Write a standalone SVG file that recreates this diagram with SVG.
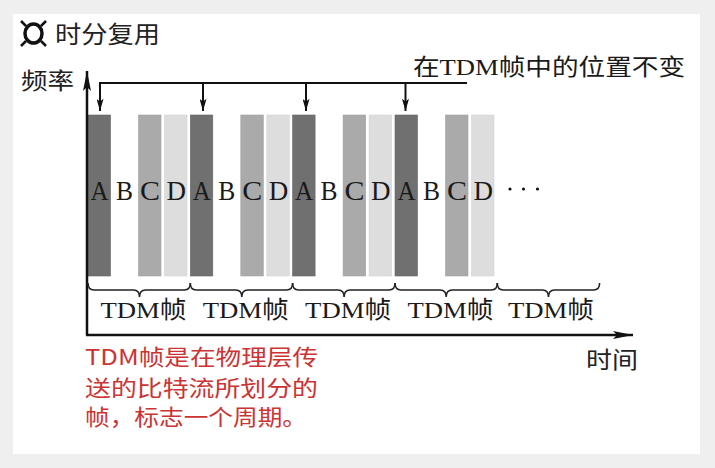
<svg xmlns="http://www.w3.org/2000/svg" width="715" height="468" viewBox="0 0 715 468">
<style>
.ser{font-family:"Liberation Serif","Noto Sans CJK SC",serif;fill:#1a1a1a}
.cjk{font-family:"Noto Sans CJK SC",sans-serif;fill:#222}
.red{font-family:"Noto Sans CJK SC","Liberation Sans",sans-serif;fill:#cc3333;font-size:22px}
.let{font-family:"Liberation Serif",serif;font-size:27px;fill:#1a1a1a}
.lab{font-family:"Liberation Serif","Noto Sans CJK SC",serif;font-size:24px;fill:#1a1a1a}
.a{fill:#707070;stroke:#666;stroke-width:0.6}
.c{fill:#aaaaaa;stroke:#a0a0a0;stroke-width:0.6}
.d{fill:#dddddd;stroke:#d4d4d4;stroke-width:0.6}
.ln{stroke:#111;stroke-width:2.5;fill:none}
.br{stroke:#222;stroke-width:1.6;fill:none}
</style>
<defs>
<marker id="ax" viewBox="0 0 20 8" refX="20" refY="4" markerWidth="20" markerHeight="8" markerUnits="userSpaceOnUse" orient="auto">
<path d="M0,0 L20,4 L0,8 L4,4 Z" fill="#111"/>
</marker>
<marker id="dn" viewBox="0 0 14 8" refX="14" refY="4" markerWidth="14" markerHeight="7" markerUnits="userSpaceOnUse" orient="auto">
<path d="M0,0 L14,4 L0,8 L3,4 Z" fill="#111"/>
</marker>
</defs>
<rect x="0" y="0" width="715" height="468" fill="#efefef"/>
<rect x="13" y="14" width="687" height="440" fill="#ffffff"/>

<g id="title">
<g fill="none" stroke="#111">
<ellipse cx="33.5" cy="33.5" rx="8.5" ry="9.5" stroke-width="3.5"/>
<path d="M26,26 L21,21 M41,26 L46,21 M26,41 L21,46 M41,41 L46,46" stroke-width="2.5"/>
</g>
<text class="cjk" x="55" y="43" font-size="24" textLength="105" lengthAdjust="spacingAndGlyphs">时分复用</text>
</g>

<g id="axis-labels">
<text class="cjk" x="21" y="89" font-size="23" textLength="53" lengthAdjust="spacingAndGlyphs">频率</text>
<text class="cjk" x="586" y="368" font-size="23" textLength="52" lengthAdjust="spacingAndGlyphs">时间</text>
<text class="ser" x="413" y="75" font-size="23" textLength="272" lengthAdjust="spacingAndGlyphs">在TDM帧中的位置不变</text>
</g>

<g id="bars">
<rect class="a" x="88" y="115" width="22.5" height="161"/>
<rect class="c" x="138.5" y="115" width="22.5" height="161"/>
<rect class="d" x="164.5" y="115" width="22.5" height="161"/>
<rect class="a" x="190.3" y="115" width="22.5" height="161"/>
<rect class="c" x="240.8" y="115" width="22.5" height="161"/>
<rect class="d" x="266.8" y="115" width="22.5" height="161"/>
<rect class="a" x="292.6" y="115" width="22.5" height="161"/>
<rect class="c" x="343.1" y="115" width="22.5" height="161"/>
<rect class="d" x="369.1" y="115" width="22.5" height="161"/>
<rect class="a" x="395" y="115" width="22.5" height="161"/>
<rect class="c" x="445.5" y="115" width="22.5" height="161"/>
<rect class="d" x="471.5" y="115" width="22.5" height="161"/>
</g>

<g id="letters">
<text class="let" x="90.5" y="200" textLength="18" lengthAdjust="spacingAndGlyphs">A</text><text class="let" x="116" y="200" textLength="17" lengthAdjust="spacingAndGlyphs">B</text><text class="let" x="140" y="200" textLength="20" lengthAdjust="spacingAndGlyphs">C</text><text class="let" x="166.5" y="200" textLength="19.5" lengthAdjust="spacingAndGlyphs">D</text>
<text class="let" x="192.8" y="200" textLength="18" lengthAdjust="spacingAndGlyphs">A</text><text class="let" x="218.3" y="200" textLength="17" lengthAdjust="spacingAndGlyphs">B</text><text class="let" x="242.3" y="200" textLength="20" lengthAdjust="spacingAndGlyphs">C</text><text class="let" x="268.8" y="200" textLength="19.5" lengthAdjust="spacingAndGlyphs">D</text>
<text class="let" x="295.1" y="200" textLength="18" lengthAdjust="spacingAndGlyphs">A</text><text class="let" x="320.6" y="200" textLength="17" lengthAdjust="spacingAndGlyphs">B</text><text class="let" x="344.6" y="200" textLength="20" lengthAdjust="spacingAndGlyphs">C</text><text class="let" x="371.1" y="200" textLength="19.5" lengthAdjust="spacingAndGlyphs">D</text>
<text class="let" x="397.5" y="200" textLength="18" lengthAdjust="spacingAndGlyphs">A</text><text class="let" x="423" y="200" textLength="17" lengthAdjust="spacingAndGlyphs">B</text><text class="let" x="447" y="200" textLength="20" lengthAdjust="spacingAndGlyphs">C</text><text class="let" x="473.5" y="200" textLength="19.5" lengthAdjust="spacingAndGlyphs">D</text>
<circle cx="510" cy="189" r="1.6" fill="#111"/>
<circle cx="523.5" cy="189" r="1.6" fill="#111"/>
<circle cx="537.5" cy="189" r="1.6" fill="#111"/>
</g>

<g id="frame-labels">
<text class="lab" x="100.5" y="318" textLength="86" lengthAdjust="spacingAndGlyphs">TDM帧</text>
<text class="lab" x="202.8" y="318" textLength="86" lengthAdjust="spacingAndGlyphs">TDM帧</text>
<text class="lab" x="305.1" y="318" textLength="86" lengthAdjust="spacingAndGlyphs">TDM帧</text>
<text class="lab" x="407.5" y="318" textLength="86" lengthAdjust="spacingAndGlyphs">TDM帧</text>
<text class="lab" x="508" y="318" textLength="86" lengthAdjust="spacingAndGlyphs">TDM帧</text>
</g>

<g id="note">
<text class="red" x="85" y="365" textLength="233" lengthAdjust="spacingAndGlyphs">TDM帧是在物理层传</text>
<text class="red" x="85" y="396" textLength="233" lengthAdjust="spacingAndGlyphs">送的比特流所划分的</text>
<text class="red" x="85" y="425" textLength="222" lengthAdjust="spacingAndGlyphs">帧，标志一个周期。</text>
</g>

<g id="connectors">
<path class="ln" d="M87,335 L87,71" marker-end="url(#ax)"/>
<path class="ln" d="M86,335 L633,335" marker-end="url(#ax)"/>
<path d="M100,83 L467,83" stroke="#111" stroke-width="2.2" fill="none"/>
<path d="M100,82 L100,111" stroke="#111" stroke-width="2" marker-end="url(#dn)"/>
<path d="M203,83 L203,111" stroke="#111" stroke-width="2" marker-end="url(#dn)"/>
<path d="M306,83 L306,111" stroke="#111" stroke-width="2" marker-end="url(#dn)"/>
<path d="M405.5,83 L405.5,111" stroke="#111" stroke-width="2" marker-end="url(#dn)"/>
<path class="br" d="M88,283 Q88,290 94,290 L133.5,290 Q139.5,290 139.5,297 Q139.5,290 145.5,290 L184.3,290 Q190.3,290 190.3,283"/>
<path class="br" d="M190.3,283 Q190.3,290 196.3,290 L235.8,290 Q241.8,290 241.8,297 Q241.8,290 247.8,290 L286.6,290 Q292.6,290 292.6,283"/>
<path class="br" d="M292.6,283 Q292.6,290 298.6,290 L338.1,290 Q344.1,290 344.1,297 Q344.1,290 350.1,290 L389,290 Q395,290 395,283"/>
<path class="br" d="M395,283 Q395,290 401,290 L440.2,290 Q446.2,290 446.2,297 Q446.2,290 452.2,290 L491.3,290 Q497.3,290 497.3,283"/>
<path class="br" d="M497.3,283 Q497.3,290 503.3,290 L542.5,290 Q548.5,290 548.5,297 Q548.5,290 554.5,290 L593.6,290 Q599.6,290 599.6,283"/>
</g>
</svg>
